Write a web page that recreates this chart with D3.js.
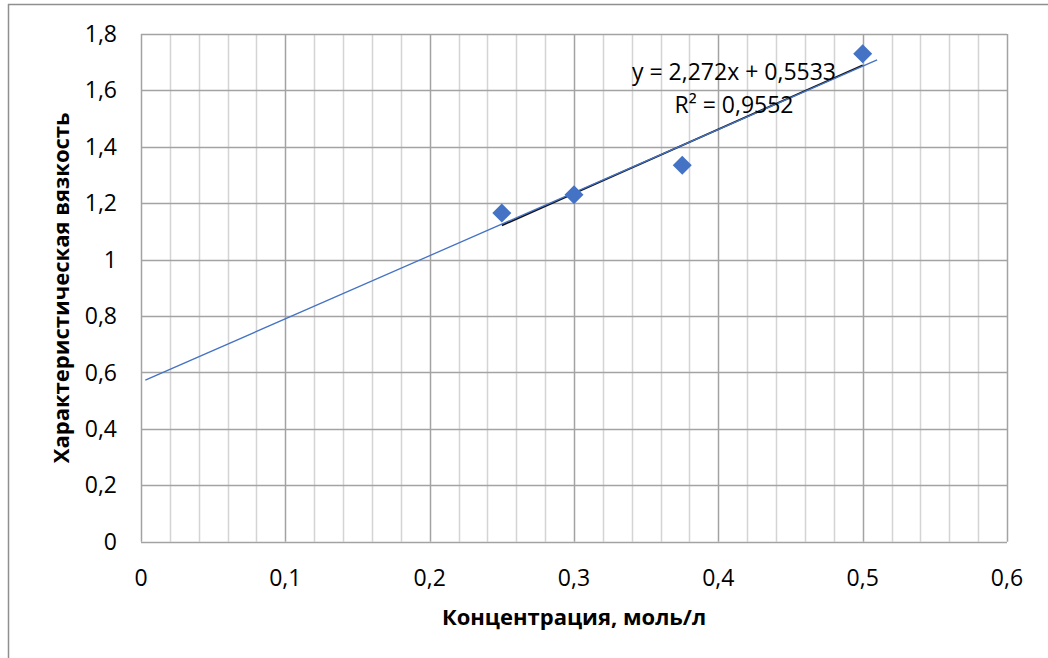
<!DOCTYPE html>
<html lang="ru">
  <head>
    <meta charset="UTF-8" />
    <title>Характеристическая вязкость</title>
    <script src="https://d3js.org/d3.v7.min.js"></script>
    <style>
      body {
        margin: 0;
        background: #fff;
        font-family: "Open Sans", sans-serif;
      }
      .tick-label {
        font-size: 23px;
        fill: #000;
      }
      .axis-title {
        font-size: 22px;
        font-weight: bold;
        fill: #000;
      }
      .trend-label {
        font-size: 23px;
        fill: #000;
      }
    </style>
  </head>
  <body>
    <div id="chart"></div>
    <script>
      // данные
      const concentration = [0.25, 0.3, 0.375, 0.5];
      const viscosity = [1.165, 1.23, 1.335, 1.73];

      const xTickValues = [0, 0.1, 0.2, 0.3, 0.4, 0.5, 0.6];
      const xTickLabels = ["0", "0,1", "0,2", "0,3", "0,4", "0,5", "0,6"];
      const yTickValues = [0, 0.2, 0.4, 0.6, 0.8, 1, 1.2, 1.4, 1.6, 1.8];
      const yTickLabels = ["0", "0,2", "0,4", "0,6", "0,8", "1", "1,2", "1,4", "1,6", "1,8"];

      // линия тренда (Excel) и дорисованная линия
      const trendSlope = 2.272;
      const trendIntercept = 0.5533;
      const trendR2 = "0,9552";
      const trendRange = [0.25, 0.5];
      const extraLineX = [0.003, 0.51];
      const extraLineY = [0.573, 1.708];

      const width = 1048;
      const height = 658;
      const margin = { top: 34, right: 41, bottom: 116, left: 141 };

      const svg = d3
        .select("#chart")
        .append("svg")
        .attr("width", width)
        .attr("height", height);

      // рамка области диаграммы (обрезана справа и снизу)
      svg.append("line")
        .attr("x1", 8).attr("y1", 4.5).attr("x2", width).attr("y2", 4.5)
        .attr("stroke", "#8f8f8f").attr("stroke-width", 1.5);
      svg.append("line")
        .attr("x1", 8.5).attr("y1", 4).attr("x2", 8.5).attr("y2", height)
        .attr("stroke", "#8f8f8f").attr("stroke-width", 1.5);

      const x = d3.scaleLinear().domain([0, 0.6]).range([margin.left, width - margin.right]);
      const y = d3.scaleLinear().domain([0, 1.8]).range([height - margin.bottom - 0.3, margin.top]);

      const grid = svg.append("g");

      // второстепенные вертикальные линии
      grid.selectAll(".minor")
        .data(x.ticks(30).filter((d) => Math.round(d * 100) % 10 !== 0))
        .join("line")
        .attr("x1", (d) => Math.round(x(d)) + 0.5)
        .attr("x2", (d) => Math.round(x(d)) + 0.5)
        .attr("y1", y(1.8))
        .attr("y2", y(0))
        .attr("stroke", "#d4d4d4")
        .attr("stroke-width", 1.5);

      // основные вертикальные линии
      grid.selectAll(".major-x")
        .data(xTickValues)
        .join("line")
        .attr("x1", (d) => Math.round(x(d)) + 0.5)
        .attr("x2", (d) => Math.round(x(d)) + 0.5)
        .attr("y1", y(1.8))
        .attr("y2", y(0))
        .attr("stroke", "#a3a3a3")
        .attr("stroke-width", 1.5);

      // горизонтальные линии
      grid.selectAll(".major-y")
        .data(yTickValues)
        .join("line")
        .attr("x1", x(0))
        .attr("x2", x(0.6))
        .attr("y1", (d) => Math.round(y(d)) + 0.5)
        .attr("y2", (d) => Math.round(y(d)) + 0.5)
        .attr("stroke", "#a3a3a3")
        .attr("stroke-width", 1.5);

      // подписи осей
      svg.selectAll(".xlab")
        .data(xTickValues)
        .join("text")
        .attr("class", "tick-label")
        .attr("x", (d) => x(d))
        .attr("y", 586)
        .attr("text-anchor", "middle")
        .text((d, i) => xTickLabels[i]);

      svg.selectAll(".ylab")
        .data(yTickValues)
        .join("text")
        .attr("class", "tick-label")
        .attr("x", 117)
        .attr("y", (d) => y(d))
        .attr("dy", "0.35em")
        .attr("text-anchor", "end")
        .text((d, i) => yTickLabels[i]);

      svg.append("text")
        .attr("class", "axis-title")
        .attr("x", (x(0) + x(0.6)) / 2)
        .attr("y", 625)
        .attr("text-anchor", "middle")
        .text("Концентрация, моль/л");

      svg.append("text")
        .attr("class", "axis-title")
        .attr("transform", `translate(69,${(y(0) + y(1.8)) / 2}) rotate(-90)`)
        .attr("text-anchor", "middle")
        .text("Характеристическая вязкость");

      // линия тренда
      svg.append("line")
        .attr("x1", x(trendRange[0]))
        .attr("y1", y(trendSlope * trendRange[0] + trendIntercept))
        .attr("x2", x(trendRange[1]))
        .attr("y2", y(trendSlope * trendRange[1] + trendIntercept))
        .attr("stroke", "#111")
        .attr("stroke-width", 1.8);

      svg.append("line")
        .attr("x1", x(extraLineX[0]))
        .attr("y1", y(extraLineY[0]))
        .attr("x2", x(extraLineX[1]))
        .attr("y2", y(extraLineY[1]))
        .attr("stroke", "#4472c4")
        .attr("stroke-width", 1.3);

      // точки
      const r = 9.5;
      svg.selectAll(".pt")
        .data(concentration)
        .join("path")
        .attr("d", (d, i) => {
          const cx = x(d), cy = y(viscosity[i]);
          return `M${cx},${cy - r}L${cx + r},${cy}L${cx},${cy + r}L${cx - r},${cy}Z`;
        })
        .attr("fill", "#4472c4");

      // уравнение
      svg.append("text")
        .attr("class", "trend-label")
        .attr("x", 734)
        .attr("y", 80)
        .attr("text-anchor", "middle")
        .text(`y = ${String(trendSlope).replace(".", ",")}x + ${String(trendIntercept).replace(".", ",")}`);

      svg.append("text")
        .attr("class", "trend-label")
        .attr("x", 734)
        .attr("y", 113)
        .attr("text-anchor", "middle")
        .text(`R² = ${trendR2}`);
    </script>
  </body>
</html>
